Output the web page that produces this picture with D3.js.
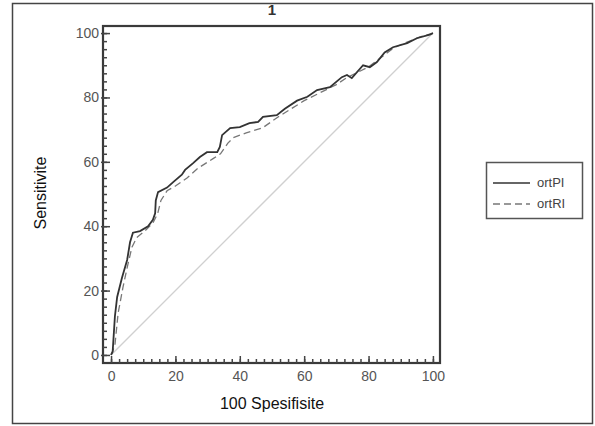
<!DOCTYPE html>
<html>
<head>
<meta charset="utf-8">
<script src="https://cdn.jsdelivr.net/npm/d3@7"></script>
<style>
  body { margin: 0; background: #fff; }
  svg { display: block; }
</style>
</head>
<body>
<svg id="chart" width="595" height="426"></svg>
<script>
// ----- data -----
const seriesNames = ["ortPI", "ortRI"];
const solidX = [0, 0.5, 1.2, 1.9, 3.4, 5.0, 5.9, 6.8, 9.0, 11.5, 13.0, 13.7, 13.9, 14.6, 17.4, 19.3, 22.0, 23.0, 25.5, 27.6, 29.8, 33.0, 33.8, 34.5, 37.0, 40.0, 43.0, 45.7, 47.2, 51.5, 54.0, 57.8, 61.0, 64.0, 68.0, 71.7, 73.3, 74.8, 78.3, 80.4, 82.6, 85.0, 87.6, 92.0, 95.0, 99.0, 100];
const solidY = [0, 1, 12, 18, 24, 29.5, 35, 38, 38.5, 40, 42, 44, 48, 50.6, 52, 53.7, 56, 57.5, 59.6, 61.5, 63, 63, 64.6, 68.3, 70.5, 70.8, 72, 72.4, 74, 74.5, 76.5, 79.0, 80.2, 82.3, 83.2, 86.3, 87, 86, 90, 89.4, 91, 94, 95.6, 96.9, 98.4, 99.5, 100];
const dashX = [0, 1.2, 2.2, 3.7, 5.2, 6.5, 8.0, 10.5, 13.0, 14.5, 15.5, 17.4, 20.0, 23.6, 27.0, 31.7, 34.0, 36.3, 38.0, 42.0, 47.0, 52.0, 56.0, 60.0, 65.0, 70.0, 73.0, 77.0, 80.0, 84.0, 88.0, 92.0, 96.0, 100];
const dashY = [0, 3, 13, 21, 28, 33.5, 36.5, 38.5, 41, 44, 48, 51, 52.5, 55, 58, 61, 62.5, 65.8, 67.5, 69, 70.5, 74, 76.5, 79, 81.5, 84, 86, 88, 89.5, 92.5, 95.5, 97.2, 98.8, 100];
const diagX = [0, 100];
const diagY = [0, 100];
const majorTicks = [0, 20, 40, 60, 80, 100];
const minorTicks = d3.range(0, 100.01, 2.5);

// ----- layout -----
const svg = d3.select("#chart");
const x = d3.scaleLinear().domain([-2.5, 102.2]).range([103, 440]);
const y = d3.scaleLinear().domain([-2.5, 102.2]).range([363, 26]);

// outer border
svg.append("rect").attr("x", 12.5).attr("y", 3.5).attr("width", 580).attr("height", 420)
  .attr("fill", "none").attr("stroke", "#444").attr("stroke-width", 1.5);

// title
svg.append("text").attr("x", 272).attr("y", 15).attr("text-anchor", "middle")
  .attr("font-family", "Liberation Sans, Arial, sans-serif").attr("font-size", 15)
  .attr("font-weight", "bold").attr("fill", "#333").text("1");

// diagonal
const line = d3.line().x(d => x(d[0])).y(d => y(d[1]));
svg.append("path").datum(d3.zip(diagX, diagY)).attr("d", line)
  .attr("fill", "none").attr("stroke", "#d0d0d0").attr("stroke-width", 1.3);

// curves
svg.append("path").datum(d3.zip(dashX, dashY)).attr("d", line)
  .attr("fill", "none").attr("stroke", "#777").attr("stroke-width", 1.3)
  .attr("stroke-dasharray", "7,4");
svg.append("path").datum(d3.zip(solidX, solidY)).attr("d", line)
  .attr("fill", "none").attr("stroke", "#333").attr("stroke-width", 1.8);

// plot frame
svg.append("rect").attr("x", 103).attr("y", 26).attr("width", 337).attr("height", 337)
  .attr("fill", "none").attr("stroke", "#3a3a3a").attr("stroke-width", 2.2);

// axes
const fontTick = "Liberation Sans Narrow, Liberation Sans, Arial, sans-serif";
const xAxis = d3.axisBottom(x).tickValues(majorTicks).tickSize(4).tickPadding(6);
const xMinor = d3.axisBottom(x).tickValues(minorTicks).tickSize(2).tickFormat("");
const yAxis = d3.axisLeft(y).tickValues(majorTicks).tickSize(4).tickPadding(2);
const yMinor = d3.axisLeft(y).tickValues(minorTicks).tickSize(2).tickFormat("");

function styleAxis(g) {
  g.select(".domain").remove();
  g.selectAll("line").attr("stroke", "#444").attr("stroke-width", 1.5);
  g.selectAll("text").attr("font-family", fontTick).attr("font-size", 14).attr("fill", "#555");
}
svg.append("g").attr("transform", "translate(0,361)").call(xMinor).call(styleAxis)
  .selectAll("line").attr("y1", -2);
svg.append("g").attr("transform", "translate(0,361)").call(xAxis).call(styleAxis)
  .selectAll("line").attr("y1", -5).attr("y2", 2);
svg.append("g").attr("transform", "translate(105,0)").call(yMinor).call(styleAxis)
  .selectAll("line").attr("x1", 2);
svg.append("g").attr("transform", "translate(105,0)").call(yAxis).call(styleAxis)
  .selectAll(".tick line").attr("x1", 5).attr("x2", -4);

// axis titles
svg.append("text").attr("x", 272).attr("y", 409).attr("text-anchor", "middle")
  .attr("font-family", "Liberation Sans, Arial, sans-serif").attr("font-size", 16)
  .attr("fill", "#111").text("100 Spesifisite");
svg.append("text").attr("transform", "translate(46,193) rotate(-90)").attr("text-anchor", "middle")
  .attr("font-family", "Liberation Sans, Arial, sans-serif").attr("font-size", 16)
  .attr("fill", "#111").text("Sensitivite");

// legend
svg.append("rect").attr("x", 486.5).attr("y", 162.5).attr("width", 96).attr("height", 56)
  .attr("fill", "#fff").attr("stroke", "#555").attr("stroke-width", 1.5);
const legY = [183, 204];
const legDash = [null, "7,4"];
const legColor = ["#333", "#777"];
seriesNames.forEach((name, i) => {
  svg.append("line").attr("x1", 493).attr("x2", 530).attr("y1", legY[i]).attr("y2", legY[i])
    .attr("stroke", legColor[i]).attr("stroke-width", 1.3).attr("stroke-dasharray", legDash[i]);
  svg.append("text").attr("x", 537).attr("y", legY[i] + 4)
    .attr("font-family", fontTick).attr("font-size", 13).attr("fill", "#444").text(name);
});
</script>
</body>
</html>
